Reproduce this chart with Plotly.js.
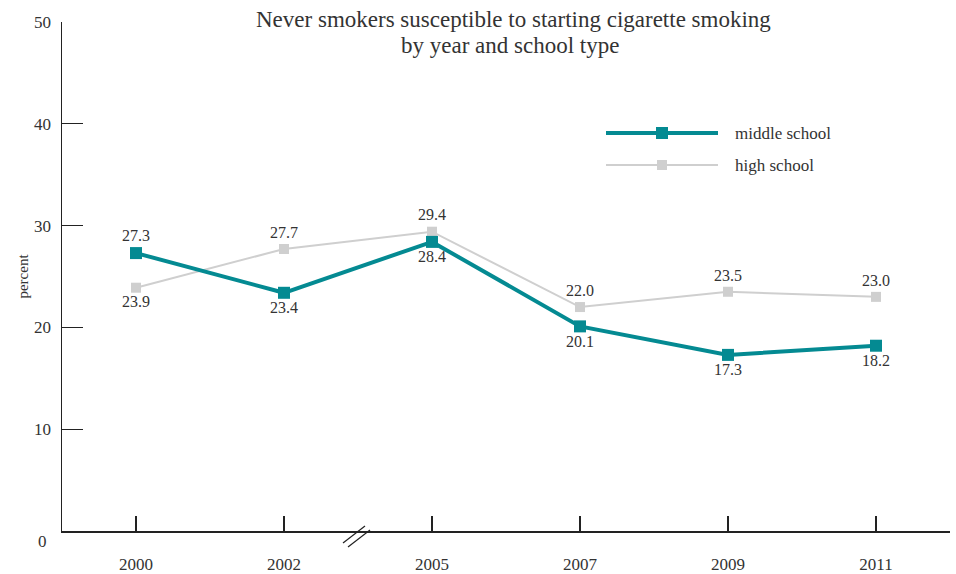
<!DOCTYPE html>
<html>
<head>
<meta charset="utf-8">
<script src="https://cdn.plot.ly/plotly-3.0.1.min.js"></script>
<style>html,body{margin:0;padding:0;background:#fff;}</style>
</head>
<body>
<div id="chart" style="width:956px;height:574px;"></div>
<script>
const years = ['2000', '2002', '2005', '2007', '2009', '2011'];
const middleSchool = [27.3, 23.4, 28.4, 20.1, 17.3, 18.2];
const highSchool = [23.9, 27.7, 29.4, 22.0, 23.5, 23.0];
const middleLabelPos = ['top center', 'bottom center', 'bottom center', 'bottom center', 'bottom center', 'bottom center'];
const highLabelPos = ['bottom center', 'top center', 'top center', 'top center', 'top center', 'top center'];
const yTicks = [0, 10, 20, 30, 40, 50];
const yTickText = ['', '10', '20', '30', '40', '50'];
const seriesNames = ['middle school', 'high school'];

const teal = '#048a92';
const grey = '#cfcfcf';
const FONT = 'Liberation Serif, DejaVu Serif, serif';
const txt = '#333333';

const traces = [
  {
    x: years, y: highSchool, name: seriesNames[1], type: 'scatter', mode: 'lines+markers+text',
    line: {color: grey, width: 2}, marker: {symbol: 'square', size: 10, color: grey},
    text: highSchool.map(v => v.toFixed(1)), textposition: highLabelPos,
    textfont: {family: FONT, size: 16, color: txt}, cliponaxis: false, hoverinfo: 'skip'
  },
  {
    x: years, y: middleSchool, name: seriesNames[0], type: 'scatter', mode: 'lines+markers+text',
    line: {color: teal, width: 4}, marker: {symbol: 'square', size: 12, color: teal},
    text: middleSchool.map(v => v.toFixed(1)), textposition: middleLabelPos,
    textfont: {family: FONT, size: 16, color: txt}, cliponaxis: false, hoverinfo: 'skip'
  }
];

const L = 62, R = 950, T = 22, B = 531;
const px = x => (x - L) / (R - L);
const py = y => (B - y) / (B - T);

const layout = {
  width: 956, height: 574,
  margin: {l: 62, r: 6, t: 22, b: 43},
  paper_bgcolor: '#ffffff', plot_bgcolor: '#ffffff',
  showlegend: false,
  font: {family: FONT, color: txt, size: 16},
  xaxis: {
    type: 'category', range: [-0.5, 5.5],
    showline: true, linecolor: '#222', linewidth: 1.5,
    showgrid: false, zeroline: false,
    ticks: 'inside', ticklen: 15, tickcolor: '#222', tickwidth: 1.2,
    ticklabelstandoff: 17,
    tickfont: {family: FONT, size: 17, color: txt}, fixedrange: true
  },
  yaxis: {
    range: [0, 50], tickvals: yTicks, ticktext: yTickText,
    showline: true, linecolor: '#222', linewidth: 1.5,
    showgrid: false, zeroline: false,
    ticks: 'inside', ticklen: 21, tickcolor: '#222', tickwidth: 1.2,
    ticklabelstandoff: 6,
    tickfont: {family: FONT, size: 17, color: txt},
    title: {text: 'percent', font: {family: FONT, size: 15, color: txt}, standoff: 2},
    fixedrange: true
  },
  annotations: [
    {xref: 'paper', yref: 'paper', x: px(513), y: py(19), text: 'Never smokers susceptible to starting cigarette smoking',
     showarrow: false, xanchor: 'center', yanchor: 'middle', font: {family: FONT, size: 23, color: txt}},
    {xref: 'paper', yref: 'paper', x: px(510), y: py(46), text: 'by year and school type',
     showarrow: false, xanchor: 'center', yanchor: 'middle', font: {family: FONT, size: 23, color: txt}},
    {xref: 'paper', yref: 'y', x: 0, y: 0, text: '0', showarrow: false, xanchor: 'right', yanchor: 'middle',
     xshift: -13, yshift: -10, font: {family: FONT, size: 17, color: txt}},
    {xref: 'paper', yref: 'paper', x: px(733), y: py(133), text: seriesNames[0], showarrow: false,
     xanchor: 'left', yanchor: 'middle', font: {family: FONT, size: 17, color: txt}},
    {xref: 'paper', yref: 'paper', x: px(733), y: py(165), text: seriesNames[1], showarrow: false,
     xanchor: 'left', yanchor: 'middle', font: {family: FONT, size: 17, color: txt}}
  ],
  shapes: [
    {type: 'line', xref: 'paper', yref: 'paper', x0: px(606), x1: px(718), y0: py(133), y1: py(133),
     line: {color: teal, width: 4}},
    {type: 'rect', xref: 'paper', yref: 'paper', xsizemode: 'pixel', ysizemode: 'pixel',
     xanchor: px(662), yanchor: py(133), x0: -6, x1: 6, y0: -6, y1: 6, fillcolor: teal, line: {width: 0}},
    {type: 'line', xref: 'paper', yref: 'paper', x0: px(606), x1: px(718), y0: py(165), y1: py(165),
     line: {color: grey, width: 2}},
    {type: 'rect', xref: 'paper', yref: 'paper', xsizemode: 'pixel', ysizemode: 'pixel',
     xanchor: px(662), yanchor: py(165), x0: -5, x1: 5, y0: -5, y1: 5, fillcolor: grey, line: {width: 0}},
    {type: 'line', xref: 'paper', yref: 'paper', xsizemode: 'pixel', ysizemode: 'pixel',
     xanchor: px(357), yanchor: py(531), x0: -14, y0: -12, x1: 8, y1: 5, line: {color: '#222', width: 1.2}},
    {type: 'line', xref: 'paper', yref: 'paper', xsizemode: 'pixel', ysizemode: 'pixel',
     xanchor: px(357), yanchor: py(531), x0: -9, y0: -16, x1: 13, y1: 1, line: {color: '#222', width: 1.2}}
  ]
};

Plotly.newPlot('chart', traces, layout, {displayModeBar: false, staticPlot: true});
</script>
</body>
</html>
